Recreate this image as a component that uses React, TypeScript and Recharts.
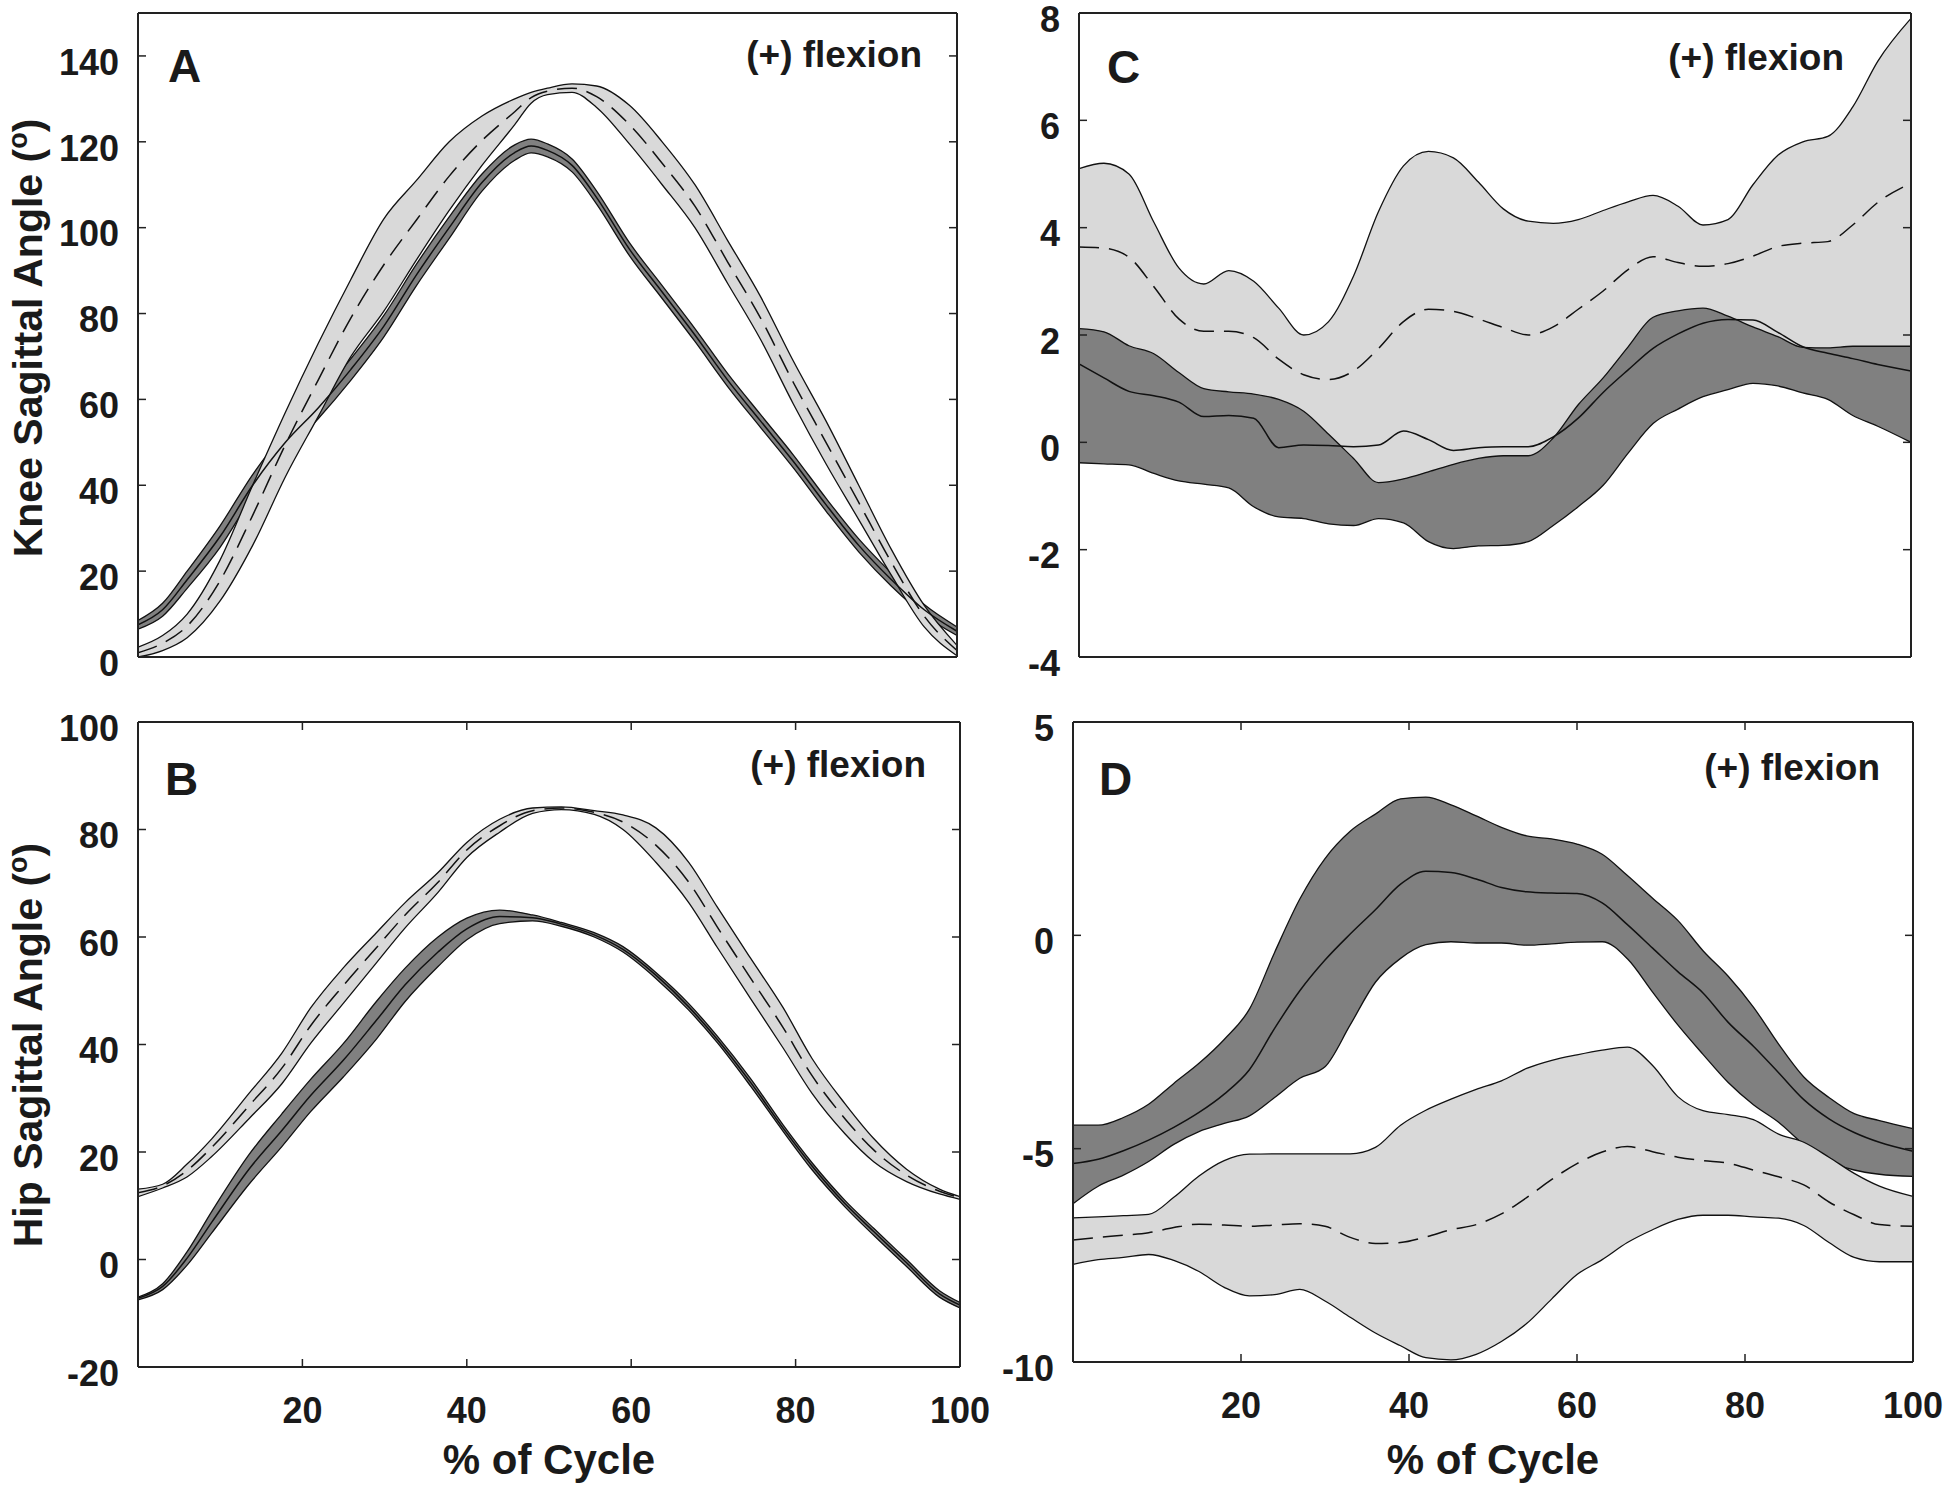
import React from 'react';
import { ComposedChart, Area, Line, XAxis, YAxis } from 'recharts';

const FONT = '"Liberation Sans", Arial, sans-serif';
const INK = '#1a1a1a';
const DARK_FILL = '#808080';
const LIGHT_FILL = '#d9d9d9';

// ---- A: knee sagittal angle ----
const kneeX = [0, 3, 6, 10, 14, 18, 22, 26, 30, 34, 38, 42, 46, 48, 50, 53, 56, 60, 64, 68, 72, 76, 80, 84, 88, 92, 96, 100];
const kneeDarkLo = [6.5, 9.5, 16, 25.5, 37.5, 47.5, 55.5, 64.5, 74.5, 86.5, 97.5, 108.5, 115.7, 117.4, 116.5, 113, 105.5, 93.5, 83.5, 73.5, 63, 53.5, 44.1, 34, 24.5, 16.5, 9.8, 5];
const kneeDarkHi = [8.5, 12.5, 20, 30.5, 42.5, 52.5, 60.5, 69.5, 79.5, 91.5, 102.5, 112.5, 119.3, 120.6, 119.5, 116, 108.5, 96.5, 86.5, 76.5, 66, 56.5, 47.1, 37, 27.5, 19.5, 12.2, 7];
const kneeDarkMean = [7.5, 11, 18, 28, 40, 50, 58, 67, 77, 89, 100, 110.5, 117.5, 119, 118, 114.5, 107, 95, 85, 75, 64.5, 55, 45.6, 35.5, 26, 18, 11, 6];
const kneeLightLo = [0, 1.5, 4.5, 13, 26, 42, 56, 70, 80.5, 92.5, 104, 114.5, 124, 129, 131, 131.5, 128, 119.5, 110, 100, 87, 74, 59, 45, 32, 19, 7, 0.3];
const kneeLightHi = [2.3, 5, 10, 22.5, 40, 57, 73, 88, 102, 111, 120, 126, 130, 131.5, 132.5, 133.5, 133, 128.5, 120, 110, 97, 84, 69, 55, 40, 25, 12, 2.7];
const kneeLightMean = [1, 3.2, 7.2, 17.7, 33, 49.5, 64.5, 79, 91.3, 101.8, 112, 120.3, 127, 130.3, 131.8, 132.5, 130.5, 124, 115, 105, 92, 79, 64, 50, 36, 22, 9.5, 1.5];
const kneeTicks = [0, 20, 40, 60, 80, 100, 120, 140];

// ---- B: hip sagittal angle ----
const hipX = [0, 3, 6, 9, 13.5, 17.5, 21, 25, 29, 32.5, 36.5, 40, 44, 48, 51.5, 55.5, 59, 63, 67, 70.5, 74.5, 78.5, 82, 86, 89.5, 93.5, 97.5, 100];
const hipDarkLo = [-7.5, -5.6, -1, 5, 14, 21, 27.5, 34, 41, 48, 54.5, 59.5, 62.5, 63, 62, 60, 57.2, 52.3, 46.4, 40.3, 32.3, 23.8, 16.7, 9.8, 4.5, -1.3, -7, -9];
const hipDarkHi = [-7, -4.5, 1.5, 9, 19.5, 27.1, 33.5, 40.2, 48, 54.2, 60, 63.5, 65, 64.1, 62.7, 60.8, 58.2, 53.4, 47.6, 41.5, 33.7, 25, 18, 11, 5.8, 0, -5.8, -8];
const hipDarkMean = [-7.2, -5, 0.3, 7, 16.8, 24, 30.5, 37.1, 44.5, 51.1, 57.2, 61.5, 63.8, 63.6, 62.4, 60.4, 57.7, 52.9, 47, 40.9, 33, 24.4, 17.4, 10.4, 5.2, -0.6, -6.4, -8.5];
const hipLightLo = [11.7, 13.3, 15.4, 19.2, 26.2, 32.7, 40.2, 47.7, 55.2, 61.7, 68.3, 74.8, 79.5, 83, 83.7, 82.8, 80, 73.9, 66.4, 58, 48.6, 39.3, 30.9, 23.4, 18.2, 14.5, 12.2, 11.2];
const hipLightHi = [13.1, 14, 17.8, 22.5, 30.9, 38.4, 46.8, 54.3, 60.8, 66.4, 72, 77.6, 81.9, 84, 84.2, 83.5, 82.7, 80.3, 73.9, 65.5, 56.1, 46.8, 37.4, 29, 22.5, 16.8, 13.1, 11.7];
const hipLightMean = [12.4, 13.7, 16.6, 20.9, 28.6, 35.6, 43.5, 51, 58, 64.1, 70.2, 76.2, 80.7, 83.5, 84, 83.2, 81.4, 77.1, 70.2, 61.8, 52.4, 43.1, 34.2, 26.2, 20.4, 15.7, 12.7, 11.5];
const hipTicks = [-20, 0, 20, 40, 60, 80, 100];

// ---- C and D share the same sampling of the cycle ----
const cdX = [0, 3, 6, 9, 12, 15, 18, 21, 24, 27, 30, 33, 36, 39, 42, 45, 48, 51, 54, 57, 60, 63, 66, 69, 72, 75, 78, 81, 84, 87, 90, 93, 96, 100];

// C
const cDarkLo = [-0.38, -0.4, -0.42, -0.58, -0.72, -0.78, -0.85, -1.2, -1.39, -1.42, -1.52, -1.55, -1.42, -1.5, -1.85, -1.98, -1.93, -1.92, -1.85, -1.55, -1.2, -0.8, -0.2, 0.35, 0.62, 0.85, 0.98, 1.1, 1.05, 0.92, 0.8, 0.5, 0.3, 0.0];
const cDarkHi = [3.3, 2.8, 2.3, 2.3, 2.2, 1.75, 1.85, 2.1, 1.2, 1.3, 1.4, 1.4, 1.3, 1.9, 1.9, 1.7, 1.7, 1.75, 1.7, 1.75, 2.1, 2.65, 2.9, 3.15, 3.4, 3.6, 3.6, 3.45, 3.05, 2.65, 2.5, 2.6, 2.6, 2.66];
const cDarkMean = [1.46, 1.2, 0.95, 0.87, 0.75, 0.48, 0.5, 0.45, -0.1, -0.05, -0.06, -0.08, -0.05, 0.21, 0.05, -0.15, -0.1, -0.08, -0.08, 0.1, 0.45, 0.93, 1.35, 1.75, 2.02, 2.22, 2.29, 2.28, 2.05, 1.78, 1.66, 1.56, 1.45, 1.33];
const cLightLo = [2.12, 2.06, 1.8, 1.65, 1.3, 1.0, 0.94, 0.9, 0.8, 0.58, 0.15, -0.3, -0.75, -0.68, -0.55, -0.41, -0.3, -0.25, -0.25, 0.08, 0.7, 1.2, 1.78, 2.33, 2.45, 2.5, 2.35, 2.15, 1.97, 1.77, 1.76, 1.79, 1.79, 1.79];
const cLightHi = [5.1, 5.2, 5.0, 4.1, 3.25, 2.95, 3.2, 3.0, 2.5, 2.0, 2.25, 3.1, 4.3, 5.15, 5.42, 5.3, 4.85, 4.35, 4.12, 4.08, 4.15, 4.32, 4.48, 4.6, 4.4, 4.05, 4.15, 4.8, 5.35, 5.6, 5.7, 6.25, 7.1, 7.9];
const cLightMean = [3.64, 3.62, 3.45, 2.9, 2.3, 2.07, 2.07, 1.95, 1.55, 1.26, 1.17, 1.33, 1.75, 2.25, 2.48, 2.44, 2.3, 2.14, 2.0, 2.15, 2.48, 2.82, 3.22, 3.46, 3.35, 3.28, 3.33, 3.47, 3.65, 3.71, 3.74, 4.05, 4.47, 4.83];
const cTicks = [-4, -2, 0, 2, 4, 6, 8];

// D
const dDarkLo = [-6.29, -5.88, -5.62, -5.3, -4.9, -4.6, -4.41, -4.23, -3.8, -3.35, -3.08, -2.1, -1.1, -0.54, -0.22, -0.15, -0.18, -0.18, -0.23, -0.2, -0.16, -0.15, -0.55, -1.33, -2.1, -2.79, -3.45, -3.97, -4.38, -4.9, -5.3, -5.5, -5.6, -5.65];
const dDarkHi = [-4.45, -4.45, -4.27, -3.96, -3.47, -3.0, -2.44, -1.73, -0.4, 0.85, 1.8, 2.44, 2.84, 3.2, 3.24, 3.06, 2.8, 2.53, 2.33, 2.26, 2.14, 1.9, 1.4, 0.87, 0.35, -0.36, -0.96, -1.68, -2.55, -3.32, -3.8, -4.18, -4.34, -4.53];
const dDarkMean = [-5.35, -5.25, -5.05, -4.8, -4.5, -4.15, -3.72, -3.15, -2.18, -1.3, -0.58, 0.03, 0.6, 1.2, 1.5, 1.47, 1.32, 1.12, 1.02, 0.99, 0.98, 0.76, 0.25, -0.3, -0.85, -1.35, -2.04, -2.6, -3.22, -3.85, -4.3, -4.62, -4.85, -5.06];
const dLightLo = [-7.71, -7.6, -7.55, -7.48, -7.62, -7.88, -8.25, -8.45, -8.42, -8.3, -8.57, -8.95, -9.32, -9.62, -9.9, -9.95, -9.82, -9.52, -9.1, -8.52, -7.95, -7.6, -7.2, -6.9, -6.66, -6.56, -6.56, -6.6, -6.63, -6.8, -7.2, -7.55, -7.65, -7.65];
const dLightHi = [-6.62, -6.6, -6.57, -6.54, -6.14, -5.64, -5.28, -5.13, -5.12, -5.12, -5.12, -5.12, -4.97, -4.45, -4.1, -3.84, -3.61, -3.41, -3.12, -2.93, -2.8, -2.69, -2.62, -3.05, -3.78, -4.11, -4.2, -4.32, -4.66, -4.85, -5.2, -5.58, -5.88, -6.12];
const dLightMean = [-7.14, -7.08, -7.03, -6.97, -6.85, -6.77, -6.79, -6.82, -6.79, -6.76, -6.82, -7.08, -7.22, -7.2, -7.07, -6.9, -6.78, -6.53, -6.15, -5.72, -5.35, -5.08, -4.95, -5.07, -5.2, -5.28, -5.34, -5.5, -5.66, -5.85, -6.25, -6.55, -6.78, -6.82];
const dTicks = [-10, -5, 0, 5];

const xTicks = [20, 40, 60, 80, 100];

type Row = { x: number; darkBand: number[]; darkMean: number; lightBand: number[]; lightMean: number };

const buildRows = (
  xs: number[], dLo: number[], dHi: number[], dMean: number[],
  lLo: number[], lHi: number[], lMean: number[],
): Row[] =>
  xs.map((x, i) => ({
    x,
    darkBand: [dLo[i], dHi[i]],
    darkMean: dMean[i],
    lightBand: [lLo[i], lHi[i]],
    lightMean: lMean[i],
  }));

// room kept around each plot box for the axes and their labels
const LW = 130;
const RW = 50;
const TH = 40;
const BH = 70;

type Box = { left: number; top: number; width: number; height: number };

const xTickStyle = { fontSize: 36, fontWeight: 700, fill: INK, fontFamily: FONT };
const yTickStyle = { ...xTickStyle, dy: 6 };
const axisLine = { stroke: '#222', strokeWidth: 2 };
const tickLine = { stroke: '#222', strokeWidth: 1.5 };

function Panel({ box, rows, yDomain, yTicks, showX }: {
  box: Box; rows: Row[]; yDomain: [number, number]; yTicks: number[]; showX: boolean;
}) {
  return (
    <div style={{ position: 'absolute', left: box.left - LW, top: box.top - TH }}>
      <ComposedChart
        width={LW + box.width + RW}
        height={TH + box.height + BH}
        data={rows}
        margin={{ top: 0, right: 0, bottom: 0, left: 0 }}
      >
        <XAxis
          xAxisId="b" dataKey="x" type="number" domain={[0, 100]} allowDataOverflow
          orientation="bottom" height={BH} ticks={xTicks} interval={0}
          axisLine={axisLine}
          tickLine={showX ? tickLine : false}
          tick={showX ? xTickStyle : false}
          tickSize={-8} tickMargin={38}
        />
        <XAxis
          xAxisId="t" dataKey="x" type="number" domain={[0, 100]} allowDataOverflow
          orientation="top" height={TH} ticks={xTicks} interval={0}
          axisLine={axisLine}
          tickLine={showX ? tickLine : false}
          tickFormatter={() => ''}
          tickSize={-8}
        />
        <YAxis
          yAxisId="l" type="number" domain={yDomain} allowDataOverflow
          ticks={yTicks} interval={0} width={LW}
          axisLine={axisLine} tickLine={tickLine} tick={yTickStyle}
          tickSize={-8} tickMargin={27}
        />
        <YAxis
          yAxisId="r" orientation="right" type="number" domain={yDomain} allowDataOverflow
          ticks={yTicks} interval={0} width={RW}
          axisLine={axisLine} tickLine={tickLine} tickFormatter={() => ''}
          tickSize={-8}
        />
        <Area
          xAxisId="b" yAxisId="l" dataKey="darkBand" type="monotone"
          fill={DARK_FILL} fillOpacity={1} stroke="#111" strokeWidth={1.3}
          dot={false} activeDot={false} isAnimationActive={false}
        />
        <Area
          xAxisId="b" yAxisId="l" dataKey="lightBand" type="monotone"
          fill={LIGHT_FILL} fillOpacity={1} stroke="#111" strokeWidth={1.3}
          dot={false} activeDot={false} isAnimationActive={false}
        />
        <Line
          xAxisId="b" yAxisId="l" dataKey="darkMean" type="monotone"
          stroke="#111" strokeWidth={1.5} dot={false} activeDot={false} isAnimationActive={false}
        />
        <Line
          xAxisId="b" yAxisId="l" dataKey="lightMean" type="monotone"
          stroke="#111" strokeWidth={1.5} strokeDasharray="20 10"
          dot={false} activeDot={false} isAnimationActive={false}
        />
      </ComposedChart>
    </div>
  );
}

const kneeRows = buildRows(kneeX, kneeDarkLo, kneeDarkHi, kneeDarkMean, kneeLightLo, kneeLightHi, kneeLightMean);
const hipRows = buildRows(hipX, hipDarkLo, hipDarkHi, hipDarkMean, hipLightLo, hipLightHi, hipLightMean);
const cRows = buildRows(cdX, cDarkLo, cDarkHi, cDarkMean, cLightLo, cLightHi, cLightMean);
const dRows = buildRows(cdX, dDarkLo, dDarkHi, dDarkMean, dLightLo, dLightHi, dLightMean);

export default function App() {
  return (
    <div style={{ position: 'absolute', left: 0, top: 0, width: 1944, height: 1489, background: '#fff', overflow: 'hidden' }}>
      <Panel box={{ left: 138, top: 13, width: 819, height: 644 }} rows={kneeRows} yDomain={[0, 150]} yTicks={kneeTicks} showX={false} />
      <Panel box={{ left: 138, top: 722, width: 822, height: 645 }} rows={hipRows} yDomain={[-20, 100]} yTicks={hipTicks} showX />
      <Panel box={{ left: 1079, top: 13, width: 832, height: 644 }} rows={cRows} yDomain={[-4, 8]} yTicks={cTicks} showX={false} />
      <Panel box={{ left: 1073, top: 722, width: 840, height: 640 }} rows={dRows} yDomain={[-10, 5]} yTicks={dTicks} showX />

      <svg width={1944} height={1489} style={{ position: 'absolute', left: 0, top: 0, pointerEvents: 'none' }}>
        <g fontFamily={FONT} fontWeight={700} fill={INK}>
          <text x={168} y={82} fontSize={46}>A</text>
          <text x={165} y={795} fontSize={46}>B</text>
          <text x={1107} y={83} fontSize={46}>C</text>
          <text x={1099} y={795} fontSize={46}>D</text>

          <text x={922} y={67} fontSize={37} textAnchor="end">(+) flexion</text>
          <text x={926} y={777} fontSize={37} textAnchor="end">(+) flexion</text>
          <text x={1844} y={70} fontSize={37} textAnchor="end">(+) flexion</text>
          <text x={1880} y={780} fontSize={37} textAnchor="end">(+) flexion</text>

          <text transform="translate(42,338) rotate(-90)" fontSize={41} textAnchor="middle">
            Knee Sagittal Angle (<tspan dy={-15} fontSize={27}>o</tspan><tspan dy={15}>)</tspan>
          </text>
          <text transform="translate(42,1045) rotate(-90)" fontSize={41} textAnchor="middle">
            Hip Sagittal Angle (<tspan dy={-15} fontSize={27}>o</tspan><tspan dy={15}>)</tspan>
          </text>

          <text x={549} y={1474} fontSize={42} textAnchor="middle">% of Cycle</text>
          <text x={1493} y={1474} fontSize={42} textAnchor="middle">% of Cycle</text>
        </g>
      </svg>
    </div>
  );
}
